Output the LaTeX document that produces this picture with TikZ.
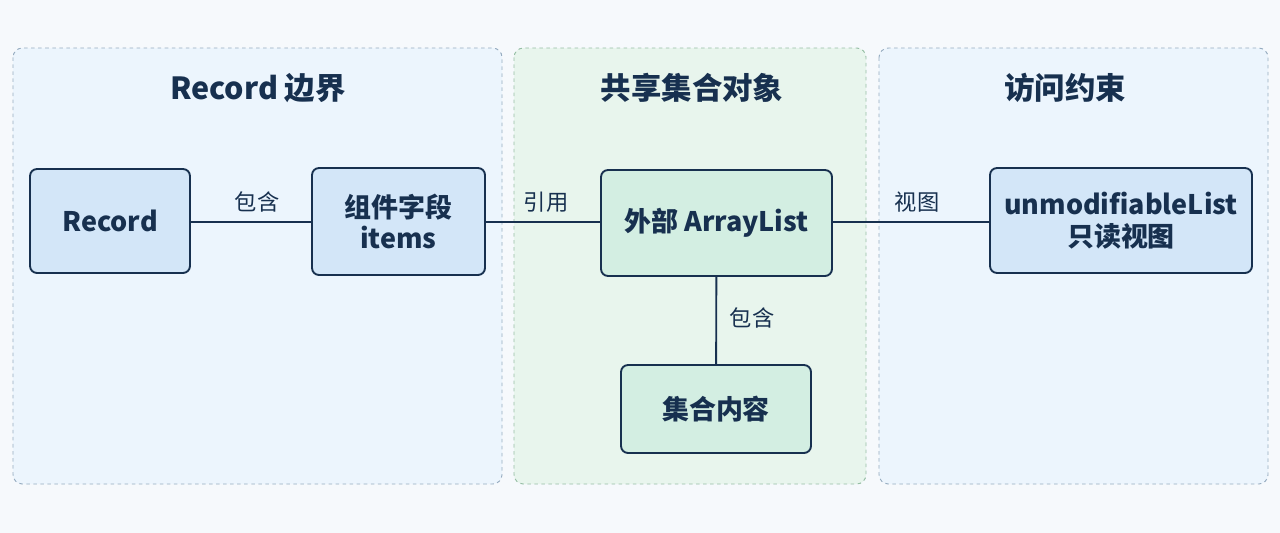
\documentclass[tikz,border=0pt]{standalone}
\usepackage{fontspec}
\setmainfont{Noto Sans CJK SC}
\definecolor{c-line}{HTML}{17304F}
\definecolor{c-bg}{HTML}{F6F9FC}
\definecolor{c-pb}{HTML}{ECF5FD}
\definecolor{c-pg}{HTML}{E8F5ED}
\definecolor{c-db}{HTML}{96ACC0}
\definecolor{c-dg}{HTML}{96BEA5}
\definecolor{c-blue}{HTML}{D3E6F8}
\definecolor{c-green}{HTML}{D3EEE2}
\begin{document}
\begin{tikzpicture}[x=0.03cm,y=-0.03cm,
 panel/.style={draw=#1,dashed,line width=0.8pt,rounded corners=8pt},
 box/.style={draw=c-line,line width=1.6pt,rounded corners=6pt,align=center,inner sep=0pt,font=\fontsize{23}{27}\selectfont\bfseries,text=c-line},
 lbl/.style={font=\fontsize{19}{22}\selectfont,text=c-line},
 ttl/.style={font=\fontsize{26}{30}\selectfont\bfseries,text=c-line},
 con/.style={draw=c-line,line width=1.6pt}]
\fill[c-bg] (0,0) rectangle (1280,533);
\path[use as bounding box] (0,0) rectangle (1280,533);
\filldraw[fill=c-pb,panel=c-db] (13,48) rectangle (502,484);
\filldraw[fill=c-pg,panel=c-dg] (514,48) rectangle (866,484);
\filldraw[fill=c-pb,panel=c-db] (879,48) rectangle (1268,484);
\node[ttl] (t1) at (258,88) {Record 边界};
\node[ttl] (t2) at (692,88) {共享集合对象};
\node[ttl] (t3) at (1065,88) {访问约束};
\node[box,fill=c-blue,minimum width=160*0.03cm,minimum height=104*0.03cm] (rec) at (110,221) {Record};
\node[box,fill=c-blue,minimum width=173*0.03cm,minimum height=107*0.03cm] (items) at (398.5,221.5) {组件字段\\items};
\node[box,fill=c-green,minimum width=231*0.03cm,minimum height=106*0.03cm] (arr) at (716.5,223) {外部 ArrayList};
\node[box,fill=c-green,minimum width=190*0.03cm,minimum height=88*0.03cm] (cont) at (716,409) {集合内容};
\node[box,fill=c-blue,minimum width=262*0.03cm,minimum height=105*0.03cm] (unm) at (1121,220.5) {unmodifiableList\\只读视图};
\draw[con] (rec.east|-0,222) -- (items.west|-0,222);
\draw[con] (items.east|-0,222) -- (arr.west|-0,222);
\draw[con] (arr.east|-0,222) -- (unm.west|-0,222);
\draw[con] (arr) -- (cont);
\node[lbl] (l1) at (257,202) {包含};
\node[lbl] (l2) at (546,202) {引用};
\node[lbl] (l3) at (917,202) {视图};
\node[lbl] (l4) at (752,318) {包含};
\end{tikzpicture}
\end{document}
